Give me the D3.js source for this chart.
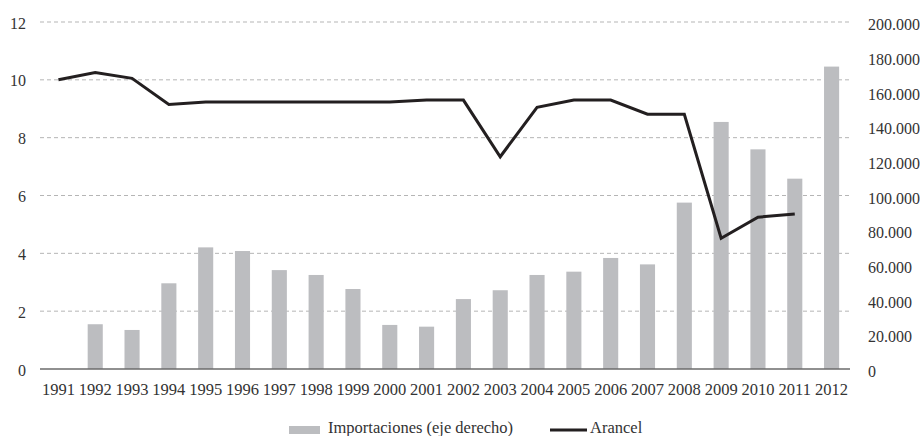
<!DOCTYPE html>
<html>
<head>
<meta charset="utf-8">
<script src="https://cdn.jsdelivr.net/npm/d3@7"></script>
<style>
body{margin:0;background:#fff;}
</style>
</head>
<body>
<svg id="chart" width="920" height="436"></svg>
<script>
const years = ["1991","1992","1993","1994","1995","1996","1997","1998","1999","2000","2001","2002","2003","2004","2005","2006","2007","2008","2009","2010","2011","2012"];
const importaciones = [null,25800,22500,49400,70100,68000,57000,54200,46100,25400,24400,40300,45400,54200,56100,64000,60300,95900,142400,126600,109700,174300];
const arancel = [10.0,10.25,10.05,9.15,9.23,9.23,9.23,9.23,9.23,9.23,9.3,9.3,7.34,9.05,9.3,9.3,8.81,8.81,4.52,5.25,5.36,null];
const leftTicks = [0,2,4,6,8,10,12];
const rightTicks = [0,20000,40000,60000,80000,100000,120000,140000,160000,180000,200000];

const svg = d3.select("#chart");
const L = 40, R = 850, T = 22, B = 369;
const FF = "Liberation Serif";

const x = d3.scaleBand().domain(years).range([L, R]).paddingInner(0.59).paddingOuter(0.295);
const yL = d3.scaleLinear().domain([0, 12]).range([B, T]);
const yR = d3.scaleLinear().domain([0, 200000]).range([B, T]);

// gridlines
svg.append("g").selectAll("line").data(leftTicks.filter(d => d > 0)).join("line")
  .attr("x1", L).attr("x2", R)
  .attr("y1", d => yL(d)).attr("y2", d => yL(d))
  .attr("stroke", "#b5b5b5").attr("stroke-width", 1).attr("stroke-dasharray", "4,3");

// bars
svg.append("g").selectAll("rect").data(years.map((y, i) => ({y, v: importaciones[i]})).filter(d => d.v != null)).join("rect")
  .attr("x", d => x(d.y)).attr("width", x.bandwidth())
  .attr("y", d => yR(d.v)).attr("height", d => B - yR(d.v))
  .attr("fill", "#bcbdc0");

// baseline
svg.append("line").attr("x1", L).attr("x2", R).attr("y1", B).attr("y2", B)
  .attr("stroke", "#6b6b6b").attr("stroke-width", 1.5);

// line
const line = d3.line()
  .defined(d => d.v != null)
  .x(d => x(d.y) + x.bandwidth() / 2)
  .y(d => yL(d.v));
svg.append("path").datum(years.map((y, i) => ({y, v: arancel[i]})))
  .attr("d", line).attr("fill", "none").attr("stroke", "#231f20").attr("stroke-width", 3)
  .attr("stroke-linejoin", "miter");

// left axis
const axL = svg.append("g").attr("transform", `translate(${L - 14},1)`)
  .call(d3.axisLeft(yL).tickValues(leftTicks).tickSize(0).tickPadding(0))
  .attr("font-family", FF).attr("font-size", 16);
axL.select(".domain").remove();
axL.selectAll("text").attr("fill", "#333");

// right axis
const fmt = d => d === 0 ? "0" : d3.format(",")(d).replace(/,/g, ".");
const axR = svg.append("g").attr("transform", `translate(${R + 18},2.5)`)
  .call(d3.axisRight(yR).tickValues(rightTicks).tickFormat(fmt).tickSize(0).tickPadding(0))
  .attr("font-family", FF).attr("font-size", 16);
axR.select(".domain").remove();
axR.selectAll("text").attr("fill", "#333");

// x axis
const axX = svg.append("g").attr("transform", `translate(0,${B})`)
  .call(d3.axisBottom(x).tickSize(0).tickPadding(0))
  .attr("font-family", FF).attr("font-size", 16.5);
axX.select(".domain").remove();
axX.selectAll("text").attr("fill", "#333").attr("y", 26).attr("dy", 0);

// legend
const lg = svg.append("g").attr("font-family", FF).attr("font-size", 16.5).attr("fill", "#333");
lg.append("rect").attr("x", 289).attr("y", 426).attr("width", 31).attr("height", 8).attr("fill", "#bcbdc0");
lg.append("text").attr("x", 328).attr("y", 433).text("Importaciones (eje derecho)");
lg.append("line").attr("x1", 550).attr("x2", 587).attr("y1", 430).attr("y2", 430).attr("stroke", "#231f20").attr("stroke-width", 3);
lg.append("text").attr("x", 590).attr("y", 433).text("Arancel");
</script>
</body>
</html>
